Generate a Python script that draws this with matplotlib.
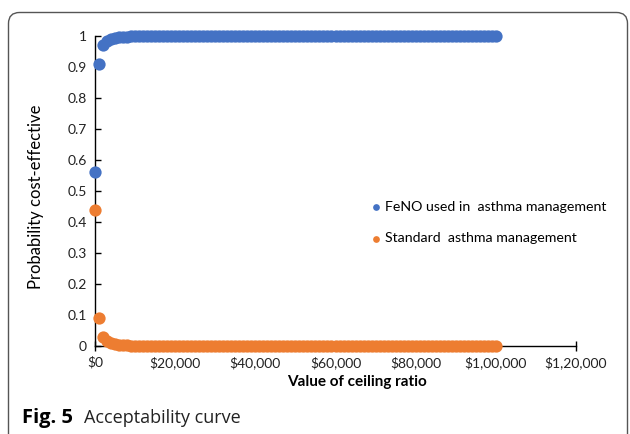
import matplotlib
matplotlib.use("Agg")
import matplotlib.pyplot as plt
from matplotlib.patches import FancyBboxPatch
import numpy as np

# ---- data ----
ceiling_ratio = [
    0, 1000, 2000, 3000, 4000, 5000, 6000, 7000, 8000, 9000,
    10000, 11000, 12000, 13000, 14000, 15000, 16000, 17000, 18000, 19000,
    20000, 21000, 22000, 23000, 24000, 25000, 26000, 27000, 28000, 29000,
    30000, 31000, 32000, 33000, 34000, 35000, 36000, 37000, 38000, 39000,
    40000, 41000, 42000, 43000, 44000, 45000, 46000, 47000, 48000, 49000,
    50000, 51000, 52000, 53000, 54000, 55000, 56000, 57000, 58000, 59000,
    60000, 61000, 62000, 63000, 64000, 65000, 66000, 67000, 68000, 69000,
    70000, 71000, 72000, 73000, 74000, 75000, 76000, 77000, 78000, 79000,
    80000, 81000, 82000, 83000, 84000, 85000, 86000, 87000, 88000, 89000,
    90000, 91000, 92000, 93000, 94000, 95000, 96000, 97000, 98000, 99000,
    100000,
]
feno = [
    0.56, 0.91, 0.97, 0.985, 0.99, 0.994, 0.996, 0.997, 0.998, 0.999,
    0.999, 0.999, 1.0, 1.0, 1.0, 1.0, 1.0, 1.0, 1.0, 1.0,
    1.0, 1.0, 1.0, 1.0, 1.0, 1.0, 1.0, 1.0, 1.0, 1.0,
    1.0, 1.0, 1.0, 1.0, 1.0, 1.0, 1.0, 1.0, 1.0, 1.0,
    1.0, 1.0, 1.0, 1.0, 1.0, 1.0, 1.0, 1.0, 1.0, 1.0,
    1.0, 1.0, 1.0, 1.0, 1.0, 1.0, 1.0, 1.0, 1.0, 1.0,
    1.0, 1.0, 1.0, 1.0, 1.0, 1.0, 1.0, 1.0, 1.0, 1.0,
    1.0, 1.0, 1.0, 1.0, 1.0, 1.0, 1.0, 1.0, 1.0, 1.0,
    1.0, 1.0, 1.0, 1.0, 1.0, 1.0, 1.0, 1.0, 1.0, 1.0,
    1.0, 1.0, 1.0, 1.0, 1.0, 1.0, 1.0, 1.0, 1.0, 1.0,
    1.0,
]
standard = [
    0.44, 0.09, 0.03, 0.015, 0.01, 0.006, 0.004, 0.003, 0.002, 0.001,
    0.001, 0.001, 0.0, 0.0, 0.0, 0.0, 0.0, 0.0, 0.0, 0.0,
    0.0, 0.0, 0.0, 0.0, 0.0, 0.0, 0.0, 0.0, 0.0, 0.0,
    0.0, 0.0, 0.0, 0.0, 0.0, 0.0, 0.0, 0.0, 0.0, 0.0,
    0.0, 0.0, 0.0, 0.0, 0.0, 0.0, 0.0, 0.0, 0.0, 0.0,
    0.0, 0.0, 0.0, 0.0, 0.0, 0.0, 0.0, 0.0, 0.0, 0.0,
    0.0, 0.0, 0.0, 0.0, 0.0, 0.0, 0.0, 0.0, 0.0, 0.0,
    0.0, 0.0, 0.0, 0.0, 0.0, 0.0, 0.0, 0.0, 0.0, 0.0,
    0.0, 0.0, 0.0, 0.0, 0.0, 0.0, 0.0, 0.0, 0.0, 0.0,
    0.0, 0.0, 0.0, 0.0, 0.0, 0.0, 0.0, 0.0, 0.0, 0.0,
    0.0,
]
series_names = ["FeNO used in  asthma management", "Standard  asthma management"]
x_ticks = [0, 20000, 40000, 60000, 80000, 100000, 120000]
x_tick_labels = ["$0", "$20,000", "$40,000", "$60,000", "$80,000", "$1,00,000", "$1,20,000"]
y_ticks = [0, 0.1, 0.2, 0.3, 0.4, 0.5, 0.6, 0.7, 0.8, 0.9, 1]
y_tick_labels = ["0", "0.1", "0.2", "0.3", "0.4", "0.5", "0.6", "0.7", "0.8", "0.9", "1"]

plt.rcParams['font.family'] = ['Lato', 'DejaVu Sans']
W, H = 630, 434
fig = plt.figure(figsize=(W / 100, H / 100), dpi=100)

# rounded frame
frame = FancyBboxPatch((8.5, -20), 619, 434 - 12.5 + 20,
                       boxstyle="round,pad=0,rounding_size=11",
                       transform=None, facecolor="none", edgecolor="#555555",
                       linewidth=1.0)
fig.patches.append(frame)

ax = fig.add_axes([95 / W, 1 - 346 / H, (576 - 95) / W, (346 - 36) / H])

blue = "#4472C4"
orange = "#ED7D31"
ax.scatter(ceiling_ratio, feno, s=78, color=blue, label=series_names[0], zorder=3, clip_on=False, linewidths=0)
ax.scatter(ceiling_ratio, standard, s=78, color=orange, label=series_names[1], zorder=3, clip_on=False, linewidths=0)

ax.set_xlim(0, 120000)
ax.set_ylim(0, 1)
ax.set_xticks(x_ticks)
ax.set_xticklabels(x_tick_labels)
ax.set_yticks(y_ticks)
ax.set_yticklabels(y_tick_labels)

for s in ["top", "right"]:
    ax.spines[s].set_visible(False)
for s in ["left", "bottom"]:
    ax.spines[s].set_linewidth(1.0)
    ax.spines[s].set_color("black")

ax.tick_params(axis="x", direction="inout", length=7, width=1, labelsize=10, pad=4, colors="black")
ax.tick_params(axis="y", direction="in", length=4, width=1, labelsize=10, pad=6, colors="black")
for lab in ax.get_xticklabels() + ax.get_yticklabels():
    lab.set_color("#222222")

ax.set_xlabel("Value of ceiling ratio", fontsize=11, fontweight="bold")
ax.xaxis.set_label_coords((357 - 95) / 481, -(382 - 346) / 310, transform=ax.transAxes)
ax.xaxis.label.set_va("center")
ax.set_ylabel("Probability cost-effective", fontsize=12)
ax.yaxis.set_label_coords(-0.105, 0.483)

leg = ax.legend(loc="upper left", bbox_to_anchor=(0.57, 0.468), frameon=False,
                fontsize=10.2, handletextpad=0.1, handlelength=1.0, labelspacing=1.38,
                markerscale=0.55, borderaxespad=0, borderpad=0)

fig.text(22 / W, 1 - 418 / H, "Fig. 5", fontsize=14.5, fontweight="bold",
         family=["Open Sans", "DejaVu Sans"], va="center", ha="left")
fig.text(84 / W, 1 - 418 / H, "Acceptability curve", fontsize=13,
         family=["Open Sans", "DejaVu Sans"], va="center", ha="left", color="#222222")

fig.savefig("out.png", dpi=100)
